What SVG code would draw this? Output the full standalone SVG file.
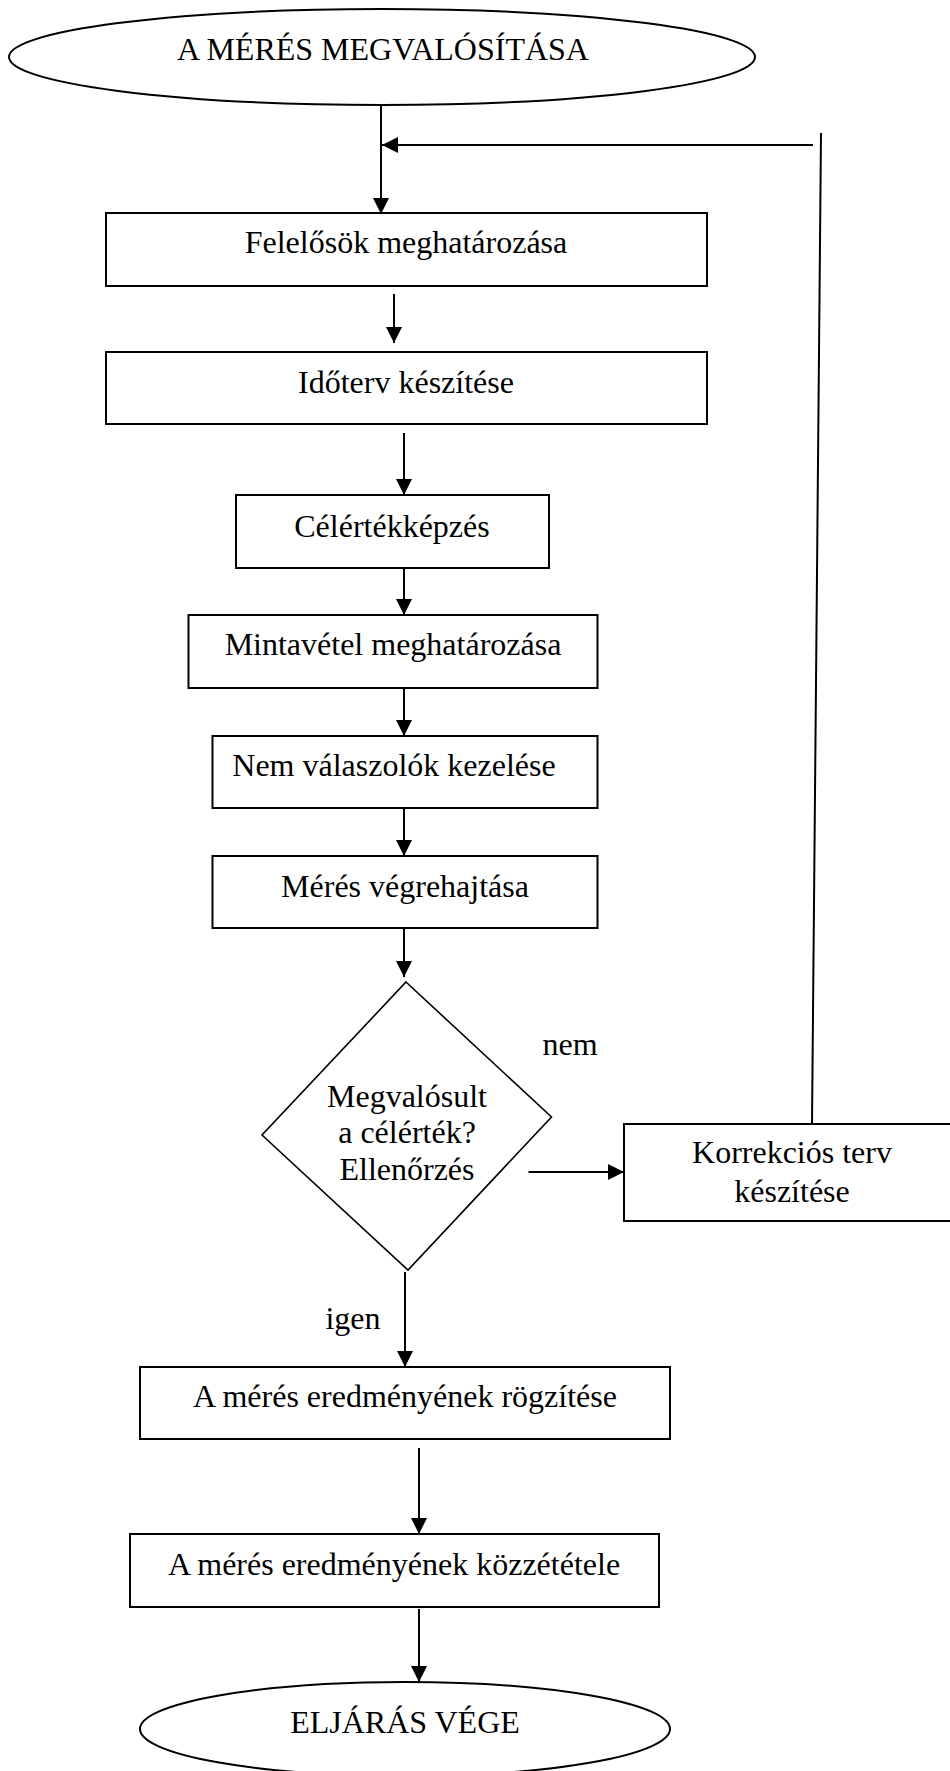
<svg xmlns="http://www.w3.org/2000/svg" width="950" height="1771" viewBox="0 0 950 1771">
<style>
.s{fill:#fff;stroke:#000;stroke-width:2}
.d{fill:#fff;stroke:#000;stroke-width:1.6}
.t{font-family:"Liberation Serif","Times New Roman",serif;font-size:32px;fill:#000;text-anchor:middle}
.c{fill:none;stroke:#000;stroke-width:2}
</style>
<defs>
<marker id="ah" viewBox="0 0 16 16" refX="16" refY="8" markerWidth="16" markerHeight="16" markerUnits="userSpaceOnUse" orient="auto">
<path d="M0,0 L16,8 L0,16 Z" fill="#000"/>
</marker>
</defs>
<rect width="950" height="1771" fill="#fff"/>
<g id="start">
<ellipse class="s" cx="382" cy="57" rx="373" ry="48"/>
<text class="t" x="383" y="60">A MÉRÉS MEGVALÓSÍTÁSA</text>
</g>
<g id="felelosok">
<rect class="s" x="106" y="213" width="601" height="73"/>
<text class="t" x="406" y="253">Felelősök meghatározása</text>
</g>
<g id="idoterv">
<rect class="s" x="106" y="352" width="601" height="72"/>
<text class="t" x="406" y="393">Időterv készítése</text>
</g>
<g id="celertek">
<rect class="s" x="236" y="495" width="313" height="73"/>
<text class="t" x="392" y="537">Célértékképzés</text>
</g>
<g id="mintavetel">
<rect class="s" x="188.5" y="615" width="409" height="73"/>
<text class="t" x="393" y="655">Mintavétel meghatározása</text>
</g>
<g id="nemvalaszolok">
<rect class="s" x="212.5" y="736" width="385" height="72"/>
<text class="t" x="394" y="776">Nem válaszolók kezelése</text>
</g>
<g id="meresvegrehajtasa">
<rect class="s" x="212.5" y="856" width="385" height="72"/>
<text class="t" x="405" y="897">Mérés végrehajtása</text>
</g>
<g id="dontes">
<polygon class="d" points="406,982 551.5,1117 408,1270 262,1135"/>
<text class="t" x="407" y="1107">Megvalósult</text>
<text class="t" x="407" y="1143">a célérték?</text>
<text class="t" x="407" y="1180">Ellenőrzés</text>
</g>
<g id="korrekcio">
<rect class="s" x="624" y="1124" width="340" height="97"/>
<text class="t" x="792" y="1163">Korrekciós terv</text>
<text class="t" x="792" y="1202">készítése</text>
</g>
<g id="rogzites">
<rect class="s" x="140" y="1367" width="530" height="72"/>
<text class="t" x="405" y="1407">A mérés eredményének rögzítése</text>
</g>
<g id="kozzetetel">
<rect class="s" x="130" y="1534" width="529" height="73"/>
<text class="t" x="394" y="1575">A mérés eredményének közzététele</text>
</g>
<g id="end">
<ellipse class="s" cx="405" cy="1729" rx="265" ry="47"/>
<text class="t" x="405" y="1733">ELJÁRÁS VÉGE</text>
</g>
<g id="connectors">
<line class="c" x1="381" y1="105" x2="381" y2="214" marker-end="url(#ah)"/>
<line class="c" x1="813" y1="145" x2="382" y2="145" marker-end="url(#ah)"/>
<line class="c" x1="821" y1="133" x2="812" y2="1124"/>
<line class="c" x1="394" y1="294" x2="394" y2="343" marker-end="url(#ah)"/>
<line class="c" x1="404" y1="433" x2="404" y2="495" marker-end="url(#ah)"/>
<line class="c" x1="404" y1="568" x2="404" y2="615" marker-end="url(#ah)"/>
<line class="c" x1="404" y1="688" x2="404" y2="736" marker-end="url(#ah)"/>
<line class="c" x1="404" y1="808" x2="404" y2="856" marker-end="url(#ah)"/>
<line class="c" x1="404" y1="928" x2="404" y2="977" marker-end="url(#ah)"/>
<line class="c" x1="528.5" y1="1172" x2="624" y2="1172" marker-end="url(#ah)"/>
<line class="c" x1="405" y1="1272" x2="405" y2="1367" marker-end="url(#ah)"/>
<line class="c" x1="419" y1="1448" x2="419" y2="1534" marker-end="url(#ah)"/>
<line class="c" x1="419" y1="1609" x2="419" y2="1682" marker-end="url(#ah)"/>
</g>
<g id="labels">
<text class="t" x="570" y="1055">nem</text>
<text class="t" x="353" y="1329">igen</text>
</g>
</svg>
